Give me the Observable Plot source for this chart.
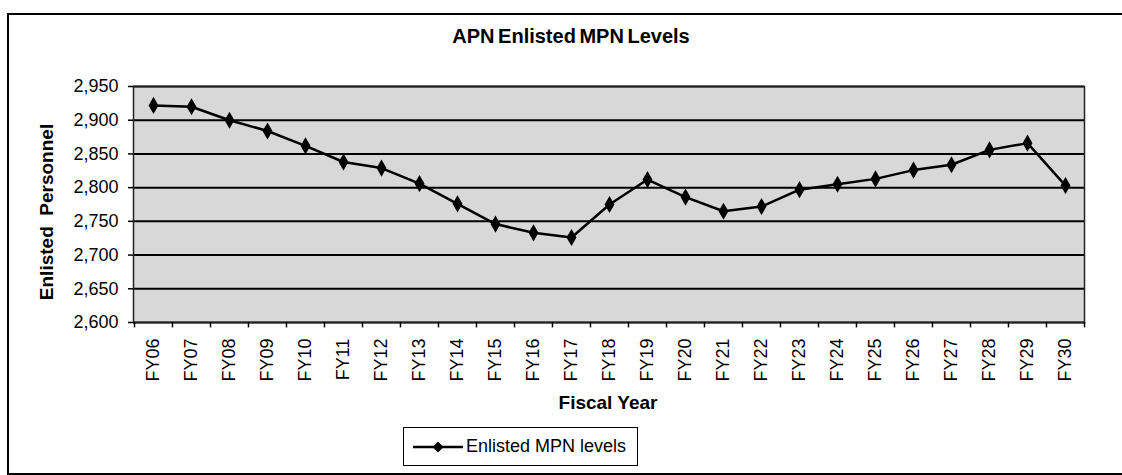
<!DOCTYPE html>
<html>
<head>
<meta charset="utf-8">
<script src="https://cdn.jsdelivr.net/npm/d3@7"></script>
<script src="https://cdn.jsdelivr.net/npm/@observablehq/plot@0.6"></script>
<style>
  html, body { margin: 0; padding: 0; background: #fff; overflow: hidden; }
  body { width: 1122px; height: 475px; position: relative; font-family: "Liberation Sans", Arial, sans-serif; color: #000; }
  #frame { position: absolute; left: 7px; top: 13px; width: 1130px; height: 458px; border: 2px solid #000; box-sizing: content-box; }
  #chart { position: absolute; left: 0; top: 0; }
  .lbl { position: absolute; font-weight: bold; white-space: pre; line-height: 1; }
  #title { left: 571px; top: 36px; font-size: 20px; word-spacing: -2px; transform: translate(-50%, -50%); }
  #xlabel { left: 608px; top: 402px; font-size: 19px; transform: translate(-50%, -50%); }
  #ylabel { left: 46px; top: 212px; font-size: 19px; transform: translate(-50%, -50%) rotate(-90deg); }
  #legend { position: absolute; left: 403px; top: 427px; width: 233px; height: 37px; border: 1.5px solid #000; background: #fff; display: flex; align-items: center; }
  #legend span { font-size: 18px; margin-left: 1px; }
</style>
</head>
<body>
<div id="frame"></div>
<div id="chart"></div>
<div id="title" class="lbl">APN Enlisted MPN Levels</div>
<div id="xlabel" class="lbl">Fiscal Year</div>
<div id="ylabel" class="lbl">Enlisted  Personnel</div>
<div id="legend"><svg width="58" height="20" style="margin-left:3px"><line x1="6" x2="56" y1="10" y2="10" stroke="#000" stroke-width="2.5"/><path d="M31,4.5 L36.5,10 L31,15.5 L25.5,10 Z" fill="#000"/></svg><span>Enlisted MPN levels</span></div>
<script>
const categories = ["FY06","FY07","FY08","FY09","FY10","FY11","FY12","FY13","FY14","FY15","FY16","FY17","FY18","FY19","FY20","FY21","FY22","FY23","FY24","FY25","FY26","FY27","FY28","FY29","FY30"];
const values = [2922, 2920, 2900, 2884, 2862, 2838, 2829, 2806, 2776, 2746, 2733, 2726, 2775, 2812, 2786, 2765, 2772, 2797, 2805, 2813, 2826, 2834, 2856, 2866, 2803];
const yTicks = [2600, 2650, 2700, 2750, 2800, 2850, 2900, 2950];
const seriesName = "Enlisted MPN levels";

const data = categories.map((c, i) => ({year: c, value: values[i]}));
const step = (1122 - 133 - 38) / categories.length;

const chart = Plot.plot({
  width: 1122,
  height: 475,
  marginLeft: 133,
  marginRight: 38,
  marginTop: 86,
  marginBottom: 153,
  style: {fontFamily: '"Liberation Sans", Arial, sans-serif', fontSize: "18px", color: "#000", background: "transparent", overflow: "visible"},
  x: {type: "band", domain: categories, padding: 0, label: null},
  y: {domain: [2600, 2950], label: null},
  marks: [
    Plot.frame({fill: "#d8d8d8"}),
    Plot.gridY(yTicks, {stroke: "#000", strokeOpacity: 1, strokeWidth: 2}),
    Plot.frame({stroke: "#222", strokeWidth: 1.5}),
    Plot.axisY(yTicks, {tickFormat: d3.format(","), tickSize: 5, tickPadding: 10, label: null, stroke: "#000", strokeWidth: 1.5}),
    Plot.axisX({tickSize: 0, tickPadding: 16, tickRotate: -90, label: null}),
    Plot.ruleX(categories, {dx: -step / 2, y1: 2600, y2: 2592, stroke: "#000", strokeWidth: 1.5}),
    Plot.ruleX([categories[categories.length - 1]], {dx: step / 2, y1: 2600, y2: 2592, stroke: "#000", strokeWidth: 1.5}),
    Plot.line(data, {x: "year", y: "value", stroke: "#000", strokeWidth: 2.5}),
    Plot.dot(data, {x: "year", y: "value", symbol: "diamond", r: 5.2, fill: "#000", stroke: "none", title: d => `${seriesName}: ${d.value}`})
  ]
});
document.getElementById("chart").appendChild(chart);
</script>
</body>
</html>
